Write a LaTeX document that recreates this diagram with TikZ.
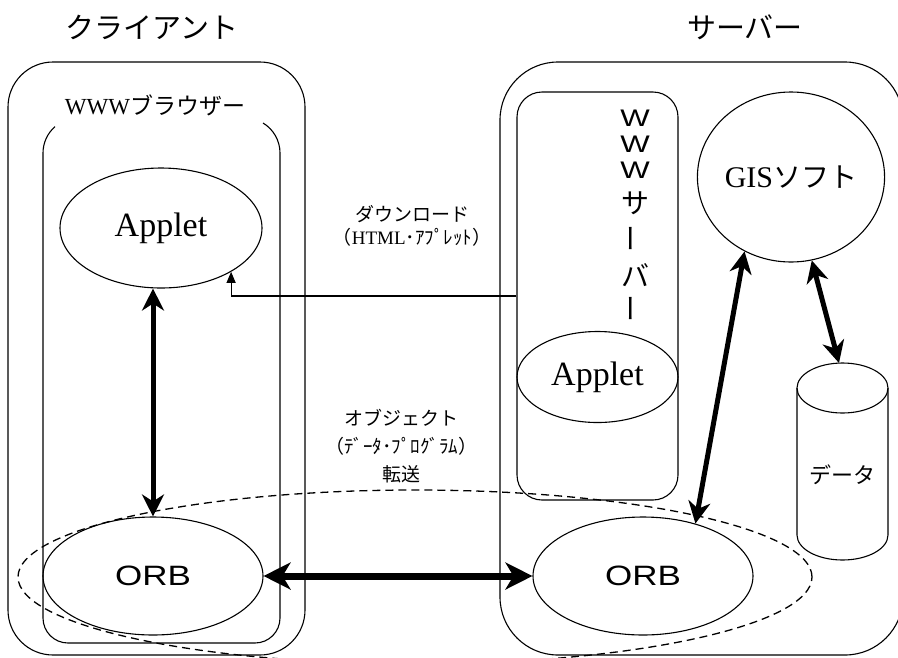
\documentclass[tikz,border=0pt]{standalone}
\usepackage{fontspec}
\setmainfont{Liberation Serif}
\newfontfamily\jp{Noto Sans CJK JP}
\newfontfamily\gothic{Liberation Sans}
\usetikzlibrary{shapes.geometric,arrows.meta}

\begin{document}
\begin{tikzpicture}[x=1pt,y=-1pt,
  fine/.style={line width=1.1pt},
  oval/.style={draw, ellipse, line width=1.1pt, inner sep=0pt},
  box/.style={draw, line width=1.1pt, inner sep=0pt},
  bigarrow/.style={line width=5pt,
    {Stealth[length=22pt,width=22pt,inset=7pt]}-{Stealth[length=22pt,width=22pt,inset=7pt]}},
  hugearrow/.style={line width=7pt,
    {Stealth[length=27pt,width=27pt,inset=8pt]}-{Stealth[length=27pt,width=27pt,inset=8pt]}},
  title/.style={font=\jp\fontsize{29}{29}\selectfont},
  serifbig/.style={font=\fontsize{34}{34}\selectfont},
  orbtext/.style={font=\gothic\fontsize{28}{28}\selectfont},
  vlat/.style={font=\gothic\fontsize{24}{24}\selectfont, inner sep=0pt},
  vjp/.style={font=\jp\fontsize{28}{28}\selectfont, inner sep=0pt},
  note/.style={align=center, inner sep=0pt},
]
\useasboundingbox (0,0) rectangle (898,657);
\clip (0,0) rectangle (898,657);

% headings
\node[title] (ctitle) at (152,27) {クライアント};
\node[title] (stitle) at (745,27) {サーバー};

% client and server frames
\node[box, rounded corners=45pt, minimum width=297pt, minimum height=593pt] (client) at (156.5,358.5) {};
\node[box, rounded corners=58pt, minimum width=403pt, minimum height=593pt] (server) at (701.5,358.5) {};

% browser frame, open along the top
\draw[fine] (78,153) ++(229:35) arc[start angle=229, end angle=180, radius=35]
  -- (43,618) arc[start angle=180, end angle=90, radius=25]
  -- (255,643) arc[start angle=90, end angle=0, radius=25]
  -- (280,153) arc[start angle=0, end angle=-59, radius=35];
\node (blabel) at (155,105) {\fontsize{23}{23}\selectfont WWW{\jp ブラウザー}};

% client side
\node[oval, serifbig, minimum width=202pt, minimum height=120pt] (capplet) at (161,228) {Applet};
\node[oval, orbtext, minimum width=220pt, minimum height=118pt] (corb) at (153,576) {\scalebox{1.25}[1]{ORB}};

% WWW server
\node[box, rounded corners=25pt, minimum width=161pt, minimum height=408pt] (wwwsrv) at (597.5,296) {};
\node[vlat] (v1) at (635,118) {\scalebox{1.3}[1]{W}};
\node[vlat] (v2) at (635,144) {\scalebox{1.3}[1]{W}};
\node[vlat] (v3) at (635,170) {\scalebox{1.3}[1]{W}};
\node[vjp] (v4) at (635,203) {サ};
\node[vjp] (v5) at (635,238) {\rotatebox{90}{ー}};
\node[vjp] (v6) at (635,275) {バ};
\node[vjp] (v7) at (635,308) {\rotatebox{90}{ー}};
\node[oval, serifbig, minimum width=161pt, minimum height=91pt] (sapplet) at (597.5,377) {Applet};

% GIS software
\node[oval, minimum width=143pt, minimum height=170pt] (gis) at (791,177)
  {\fontsize{30}{30}\selectfont GIS{\jp\fontsize{28}{28}\selectfont ソフト}};

% data store
\draw[fine] (842.5,388) ellipse[x radius=45.5, y radius=25];
\draw[fine] (797,388) -- (797,535) arc[start angle=180, end angle=0, x radius=45.5, y radius=25] -- (888,388);
\node (data) at (842.5,475) {\jp\fontsize{22}{22}\selectfont データ};
\coordinate (dbtop) at (839,363);

% server ORB
\node[oval, orbtext, minimum width=220pt, minimum height=118pt] (sorb) at (643,576) {\scalebox{1.25}[1]{ORB}};

% object transfer zone
\node[draw, ellipse, line width=1.3pt, dash pattern=on 8pt off 5pt, minimum width=794pt, minimum height=174pt] (transfer) at (415,577) {};

% connectors
\draw[fine, -{Triangle[length=11pt,width=9pt]}] (wwwsrv.west) -| (capplet.-32);
\draw[bigarrow] (capplet.south -| corb.north) -- (corb.north);
\draw[hugearrow] (corb.east) -- (sorb.west);
\draw[bigarrow] (gis.-122) -- (sorb.45);
\draw[bigarrow] (gis.-76) -- (dbtop);

% labels
\node[note, font=\jp\fontsize{19}{23}\selectfont] (dlnote) at (412,226)
  {ダウンロード\\（{\rmfamily HTML}･ｱﾌﾟﾚｯﾄ）};
\node[note, font=\jp\fontsize{19}{28}\selectfont] (objnote) at (401,446)
  {オブジェクト\\（ﾃﾞｰﾀ･ﾌﾟﾛｸﾞﾗﾑ）\\転送};
\end{tikzpicture}
\end{document}
